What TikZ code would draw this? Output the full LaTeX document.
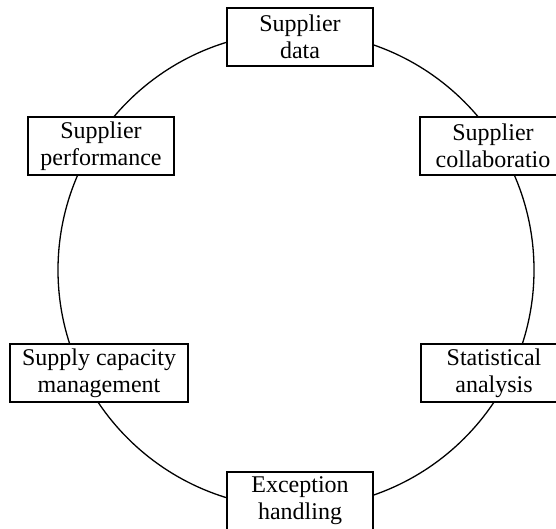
\documentclass[tikz,border=0pt]{standalone}
\usepackage{fontspec}
\setmainfont{Liberation Serif}
\begin{document}
\begin{tikzpicture}[x=1pt,y=-1pt,
  stage/.style={draw=black, line width=2pt, fill=white, align=center,
    minimum width=146pt, minimum height=58pt, inner sep=2pt,
    font=\fontsize{24}{27}\selectfont},
  ring/.style={draw=black, line width=1.3pt}]
  \useasboundingbox (0,0) rectangle (556,529);
  % the cycle
  \draw[ring] (296,270) circle[radius=238];
  % stages around the cycle
  \node[stage] (data)   at (300,37)  {Supplier\\data};
  \node[stage] (collab) at (493,146) {Supplier\\collaboratio};
  \node[stage] (stat)   at (494,373) {Statistical\\analysis};
  \node[stage] (exc)    at (300,501) {Exception\\handling};
  \node[stage, minimum width=178pt] (cap) at (99,373) {Supply capacity\\management};
  \node[stage] (perf)   at (101,146) {Supplier\\performance};
\end{tikzpicture}
\end{document}
